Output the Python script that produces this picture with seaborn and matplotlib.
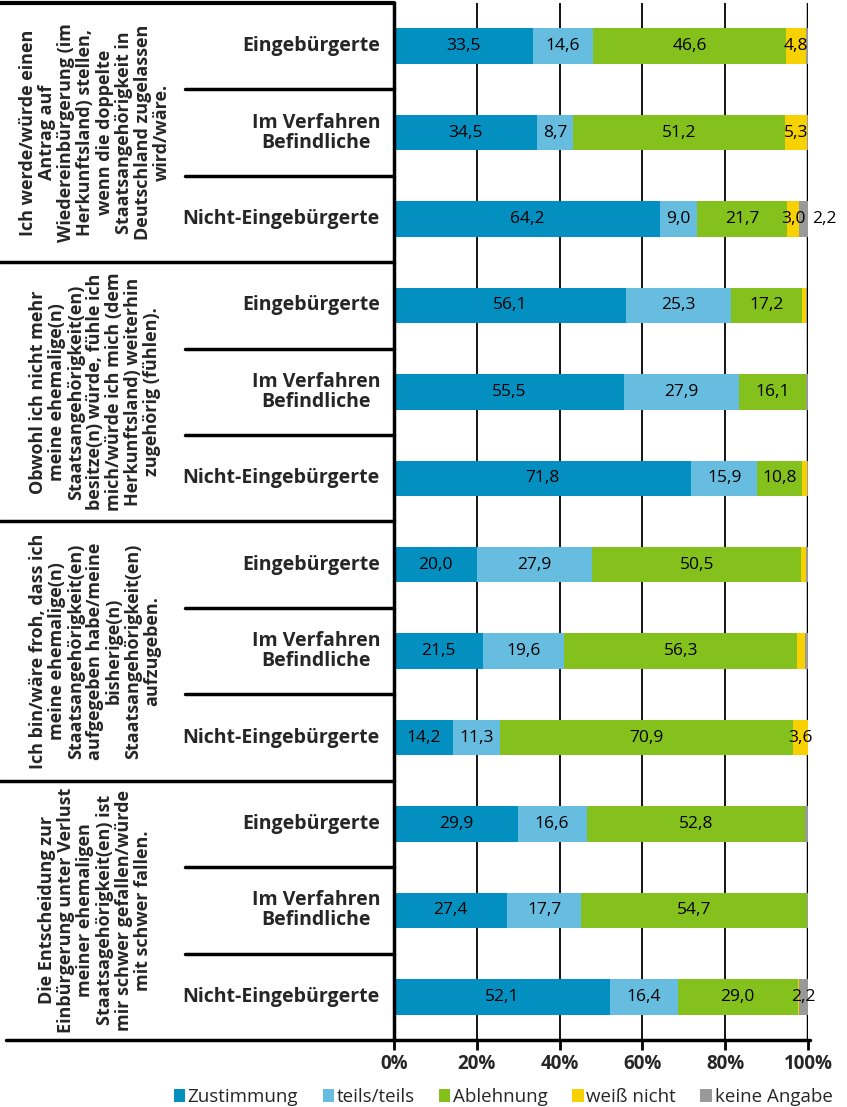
import numpy as np
import pandas as pd
import matplotlib
matplotlib.use('Agg')
import matplotlib.pyplot as plt
import matplotlib.transforms as mtransforms
from matplotlib.lines import Line2D
from matplotlib.patches import Patch
import seaborn as sns

# statements (groups) and respondent types (rows per group)
statements = [
    "Ich werde/würde einen\nAntrag auf\nWiedereinbürgerung (im\nHerkunftsland) stellen,\nwenn die doppelte\nStaatsangehörigkeit in\nDeutschland zugelassen\nwird/wäre.",
    "Obwohl ich nicht mehr\nmeine ehemalige(n)\nStaatsangehörigkeit(en)\nbesitze(n) würde, fühle ich\nmich/würde ich mich (dem\nHerkunftsland) weiterhin\nzugehörig (fühlen).",
    "Ich bin/wäre froh, dass ich\nmeine ehemalige(n)\nStaatsangehörigkeit(en)\naufgegeben habe/meine\nbisherige(n)\nStaatsangehörigkeit(en)\naufzugeben.",
    "Die Entscheidung zur\nEinbürgerung unter Verlust\nmeiner ehemaligen\nStaatsagehörigkeit(en) ist\nmir schwer gefallen/würde\nmit schwer fallen.",
]
befragte = ["Eingebürgerte", "Im Verfahren\nBefindliche", "Nicht-Eingebürgerte"]

zustimmung   = [33.5, 34.5, 64.2, 56.1, 55.5, 71.8, 20.0, 21.5, 14.2, 29.9, 27.4, 52.1]
teils        = [14.6, 8.7, 9.0, 25.3, 27.9, 15.9, 27.9, 19.6, 11.3, 16.6, 17.7, 16.4]
ablehnung    = [46.6, 51.2, 21.7, 17.2, 16.1, 10.8, 50.5, 56.3, 70.9, 52.8, 54.7, 29.0]
weiss_nicht  = [4.8, 5.3, 3.0, 0.9, 0.0, 1.2, 1.0, 1.9, 3.6, 0.0, 0.0, 0.3]
keine_angabe = [0.5, 0.3, 2.2, 0.3, 0.5, 0.3, 0.6, 0.6, 0.0, 0.7, 0.2, 2.2]

series_names = ["Zustimmung", "teils/teils", "Ablehnung", "weiß nicht", "keine Angabe"]
colors = ["#048fc1", "#66bde0", "#84c11c", "#f7d200", "#999999"]

W, H = 847, 1107

df = pd.DataFrame({
    "row": [f"r{i}" for i in range(12)],
    "Zustimmung": zustimmung,
    "teils/teils": teils,
    "Ablehnung": ablehnung,
    "weiß nicht": weiss_nicht,
    "keine Angabe": keine_angabe,
})
cum = df[series_names].cumsum(axis=1)

sns.set_theme(style="white")
plt.rcParams['font.family'] = ['Open Sans', 'DejaVu Sans']

fig = plt.figure(figsize=(W / 100, H / 100), dpi=100)
ax = fig.add_axes([394 / W, 1 - 1040 / H, (808 - 394) / W, (1040 - 3) / H])

# stacked bars: draw cumulative totals from the outermost inwards
for name, col in reversed(list(zip(series_names, colors))):
    sns.barplot(x=cum[name], y=df["row"], order=df["row"], orient="h", color=col,
                width=0.41, saturation=1, errorbar=None, linewidth=0, ax=ax, zorder=2)

# value labels
outside = {(2, "keine Angabe")}
for i in range(len(df)):
    for name in series_names:
        v = df.loc[i, name]
        if v < 2:
            continue
        txt = f"{v:.1f}".replace('.', ',')
        if (i, name) in outside:
            ax.text(100.9, i, txt, ha='left', va='center', fontsize=12.5, color='black', zorder=4)
        else:
            ax.text(cum.loc[i, name] - v / 2, i, txt, ha='center', va='center',
                    fontsize=12.5, color='black', zorder=4)

ax.set_xlim(0, 100)
ax.set_ylim(11.5, -0.5)
ax.set_xlabel('')
ax.set_ylabel('')
ax.set_yticks([])
ax.set_xticks([0, 20, 40, 60, 80, 100])
ax.set_xticklabels(['0%', '20%', '40%', '60%', '80%', '100%'], fontweight='bold', fontsize=13.5)
ax.tick_params(axis='x', length=7, width=2, color='black', direction='out', pad=3, bottom=True)
ax.set_axisbelow(True)
ax.grid(axis='x', color='black', linewidth=1.3)
ax.axvline(100, color='black', linewidth=2.5, zorder=1)
for s in ['top', 'right', 'bottom']:
    ax.spines[s].set_visible(False)
ax.spines['left'].set_color('black')
ax.spines['left'].set_linewidth(2.5)

# left table: lines and labels
trans = mtransforms.blended_transform_factory(fig.transFigure, ax.transData)
x_axis = 394 / W
fig.add_artist(Line2D([0, x_axis], [-0.5, -0.5], transform=trans, color='black', lw=3))
for y in [2.5, 5.5, 8.5]:
    fig.add_artist(Line2D([0, x_axis], [y, y], transform=trans, color='black', lw=2.5))
for y in [0.5, 1.5, 3.5, 4.5, 6.5, 7.5, 9.5, 10.5]:
    fig.add_artist(Line2D([185 / W, x_axis], [y, y], transform=trans, color='black', lw=2.5))
fig.add_artist(Line2D([6 / W, 810 / W], [11.5, 11.5], transform=trans, color='black', lw=2.5))

for g, st in enumerate(statements):
    fig.text(95 / W, 1 + 3 * g, st, transform=trans, rotation=90, ha='center', va='center',
             multialignment='center', fontsize=13, fontweight='bold', linespacing=1.08)
    for b, who in enumerate(befragte):
        fig.text(380 / W, 3 * g + b, who, transform=trans, ha='right', va='center',
                 multialignment='center', fontsize=14, fontweight='bold', linespacing=1.0)

handles = [Patch(facecolor=c, edgecolor='none') for c in colors]
fig.legend(handles, series_names, loc='center', bbox_to_anchor=(503 / W, 1 - 1097 / H),
           ncol=5, frameon=False, fontsize=13.5, handlelength=0.6, handleheight=0.7,
           handletextpad=0.15, columnspacing=1.3, borderaxespad=0)

fig.savefig('out.png', dpi=100)
